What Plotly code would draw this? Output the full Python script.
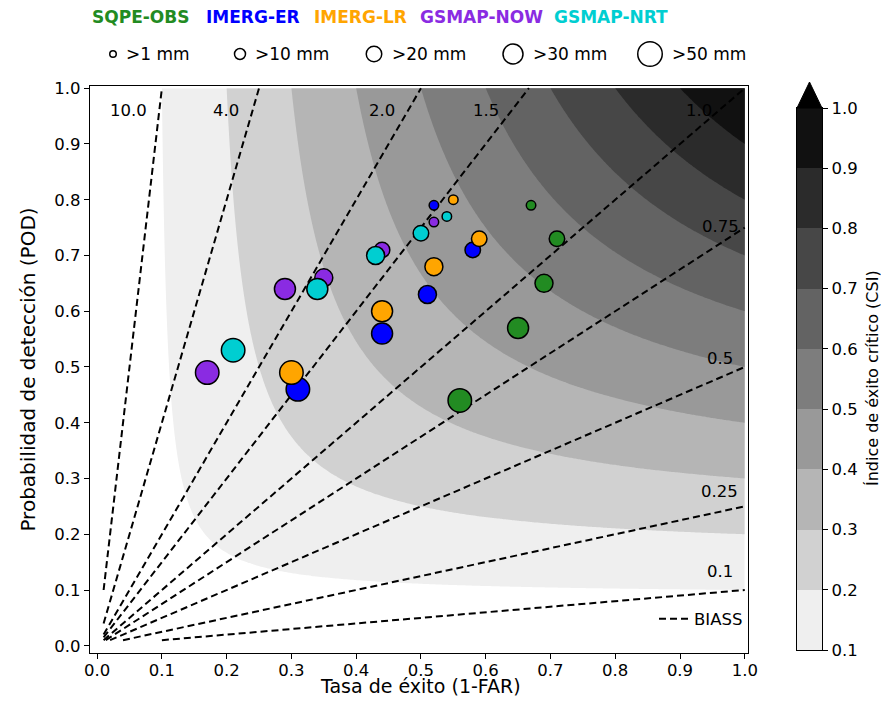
import numpy as np
import plotly.graph_objects as go

# ---------------- data ----------------
products = ["SQPE-OBS", "IMERG-ER", "IMERG-LR", "GSMAP-NOW", "GSMAP-NRT"]
product_colors = ["#228B22", "#0000FF", "#FFA500", "#8A2BE2", "#00CED1"]
thresholds = [">1 mm", ">10 mm", ">20 mm", ">30 mm", ">50 mm"]

sqpe_obs_sr = [0.67, 0.71, 0.69, 0.65, 0.56]
sqpe_obs_pod = [0.79, 0.73, 0.65, 0.57, 0.44]
imerg_er_sr = [0.52, 0.58, 0.51, 0.44, 0.31]
imerg_er_pod = [0.79, 0.71, 0.63, 0.56, 0.46]
imerg_lr_sr = [0.55, 0.59, 0.52, 0.44, 0.30]
imerg_lr_pod = [0.80, 0.73, 0.68, 0.60, 0.49]
gsmap_now_sr = [0.52, 0.44, 0.35, 0.29, 0.17]
gsmap_now_pod = [0.76, 0.71, 0.66, 0.64, 0.49]
gsmap_nrt_sr = [0.54, 0.50, 0.43, 0.34, 0.21]
gsmap_nrt_pod = [0.77, 0.74, 0.70, 0.64, 0.53]

csi_levels = [0.1, 0.2, 0.3, 0.4, 0.5, 0.6, 0.7, 0.8, 0.9, 1.0]
bias_levels = [10.0, 4.0, 2.0, 1.5, 1.0, 0.75, 0.5, 0.25, 0.1]
bias_labels = ["10.0", "4.0", "2.0", "1.5", "1.0", "0.75", "0.5", "0.25", "0.1"]
axis_ticks = [0.0, 0.1, 0.2, 0.3, 0.4, 0.5, 0.6, 0.7, 0.8, 0.9, 1.0]

# ---------------- style ----------------
FONT = "DejaVu Sans"
TICK = 16.5
band_colors = ["#ffffff", "#efefef", "#d1d1d1", "#b5b5b5", "#999999", "#7d7d7d",
               "#636363", "#474747", "#2b2b2b", "#111111", "#000000"]
colorscale = [[i / 10, c] for i, c in enumerate(band_colors)]
marker_sizes = [9.5, 15.5, 18, 21, 23.5]
legend_circle_d = [8, 12.5, 17, 21.5, 26]

# page coordinates (body has an 8px margin)
OFF = 8
W, H = 889 - 2 * OFF, 705 - 2 * OFF
ML, MR, MT, MB = 82, 42, 0, 44
PW, PH = W - ML - MR, H - MT - MB
PAGE_L = ML + OFF              # page x of paper left
PAGE_B = OFF + MT + PH         # page y of paper bottom


def px(x):
    return (x - PAGE_L) / PW


def py(y):
    return (PAGE_B - y) / PH


fig = go.Figure()

# CSI background
g = np.linspace(0.01, 1.0, 300)
SR, POD = np.meshgrid(g, g)
CSI = 1.0 / (1.0 / SR + 1.0 / POD - 1.0)
fig.add_trace(go.Contour(
    x=g, y=g, z=CSI, colorscale=colorscale, showscale=False,
    contours=dict(start=csi_levels[0], end=csi_levels[-1], size=0.1,
                  coloring="fill", showlines=False),
    line=dict(width=0), hoverinfo="skip"))

# Bias lines
for i, b in enumerate(bias_levels):
    s0 = max(0.01, 0.01 / b)
    s1 = min(1.0, 1.0 / b)
    xs = np.linspace(s0, s1, 2)
    fig.add_trace(go.Scatter(
        x=xs, y=b * xs, mode="lines",
        line=dict(color="black", width=2, dash="7px,4px"),
        name="BIASS", showlegend=(i == 0), hoverinfo="skip"))

# Points
series = [
    (sqpe_obs_sr, sqpe_obs_pod),
    (imerg_er_sr, imerg_er_pod),
    (imerg_lr_sr, imerg_lr_pod),
    (gsmap_now_sr, gsmap_now_pod),
    (gsmap_nrt_sr, gsmap_nrt_pod),
]
for name, col, (sr, pod) in zip(products, product_colors, series):
    fig.add_trace(go.Scatter(
        x=sr, y=pod, mode="markers", name=name, showlegend=False,
        text=thresholds,
        marker=dict(color=col, size=marker_sizes, opacity=1,
                    line=dict(color="black", width=1.5)),
        cliponaxis=False))

# Colorbar as heatmap
mids = [(a + b) / 2 for a, b in zip(csi_levels[:-1], csi_levels[1:])]
fig.add_trace(go.Heatmap(
    x=[0], y=mids, z=[[m] for m in mids], colorscale=colorscale,
    zmin=0.05, zmax=1.05, showscale=False, xaxis="x2", yaxis="y2",
    hoverinfo="skip"))

main_xdom = [0, px(748)]
main_ydom = [0, py(86)]
cb_xdom = [px(797), px(822)]
cb_ydom = [py(650), py(108)]

axis_common = dict(showgrid=False, zeroline=False, showline=True, linecolor="black",
                   linewidth=1.2, mirror=True, automargin=False)

fig.update_layout(
    width=W, height=H,
    margin=dict(l=ML, r=MR, t=MT, b=MB, autoexpand=False),
    paper_bgcolor="white", plot_bgcolor="white",
    font=dict(family=FONT, size=TICK, color="black"),
    xaxis=dict(domain=main_xdom, range=[-0.011, 1.005], tickvals=axis_ticks,
               ticktext=[f"{v:.1f}" for v in axis_ticks],
               ticks="outside", ticklen=5, tickcolor="black", ticklabelstandoff=-3,
               tickfont=dict(size=TICK), **axis_common),
    yaxis=dict(domain=main_ydom, range=[-0.013, 1.004], tickvals=axis_ticks,
               ticktext=[f"{v:.1f}" for v in axis_ticks],
               ticks="outside", ticklen=5, tickcolor="black",
               tickfont=dict(size=TICK),
               title=dict(text="Probabilidad de detección (POD)", font=dict(size=20), standoff=13),
               **axis_common),
    xaxis2=dict(domain=cb_xdom, range=[-0.5, 0.5], anchor="y2", showticklabels=False,
                ticks="", **axis_common),
    yaxis2=dict(domain=cb_ydom, range=[0.1, 1.0], anchor="x2", side="right",
                tickvals=csi_levels, ticktext=[f"{v:.1f}" for v in csi_levels],
                ticks="outside", ticklen=5, tickcolor="black",
                tickfont=dict(size=TICK), **axis_common),
    legend=dict(x=px(748), y=py(619), xanchor="right", yanchor="middle",
                bgcolor="rgba(255,255,255,0)", font=dict(size=TICK)),
)

# X axis title
fig.add_annotation(xref="paper", yref="paper", x=px(420), y=py(686),
                   xanchor="center", yanchor="middle", showarrow=False, borderpad=0,
                   text="Tasa de éxito (1-FAR)", font=dict(size=19))

# Colorbar extension triangle
tip_y = py(82)
x0, x1 = cb_xdom
fig.add_shape(type="path", xref="paper", yref="paper",
              path=f"M {x0} {cb_ydom[1]} L {x1} {cb_ydom[1]} L {(x0 + x1) / 2} {tip_y} Z",
              fillcolor="black", line=dict(color="black", width=1))

# Colorbar title
fig.add_annotation(xref="paper", yref="paper", x=px(872), y=py(378),
                   xanchor="center", yanchor="middle",
                   text="Índice de éxito crítico (CSI)", textangle=-90, showarrow=False,
                   font=dict(size=16))

# Bias labels
top_pos = [(0.049, 0.96), (0.199, 0.96), (0.44, 0.96), (0.60, 0.96), (0.93, 0.96)]
right_pos = [(0.963, 0.752), (0.961, 0.516), (0.961, 0.276), (0.961, 0.133)]
for txt, (x, y) in zip(bias_labels, top_pos + right_pos):
    fig.add_annotation(x=x, y=y, xref="x", yref="y", text=txt, showarrow=False,
                       xanchor="center", yanchor="middle",
                       font=dict(size=TICK, color="black"))

# Header: product names
name_centers = [140.5, 252.5, 360, 482, 610.5]
for name, col, cx in zip(products, product_colors, name_centers):
    fig.add_annotation(xref="paper", yref="paper", x=px(cx), y=py(17), text=f"<b>{name}</b>",
                       showarrow=False, font=dict(size=17, color=col), xanchor="center",
                       yanchor="middle", borderpad=0)

# Header: size legend
circle_x = [113, 240, 374, 513, 650]
for lbl, cx, d in zip(thresholds, circle_x, legend_circle_d):
    r = (d - 1.5) / 2
    fig.add_shape(type="circle", xref="paper", yref="paper",
                  xsizemode="pixel", ysizemode="pixel",
                  xanchor=px(cx), yanchor=py(54), x0=-r, x1=r, y0=-r, y1=r,
                  line=dict(color="black", width=1.5), fillcolor="rgba(0,0,0,0)")
    fig.add_annotation(xref="paper", yref="paper", x=px(cx + d / 2 + 7), y=py(54), text=lbl,
                       showarrow=False, xanchor="left", yanchor="middle",
                       font=dict(size=17, color="black"))

fig.write_html("out.html")
